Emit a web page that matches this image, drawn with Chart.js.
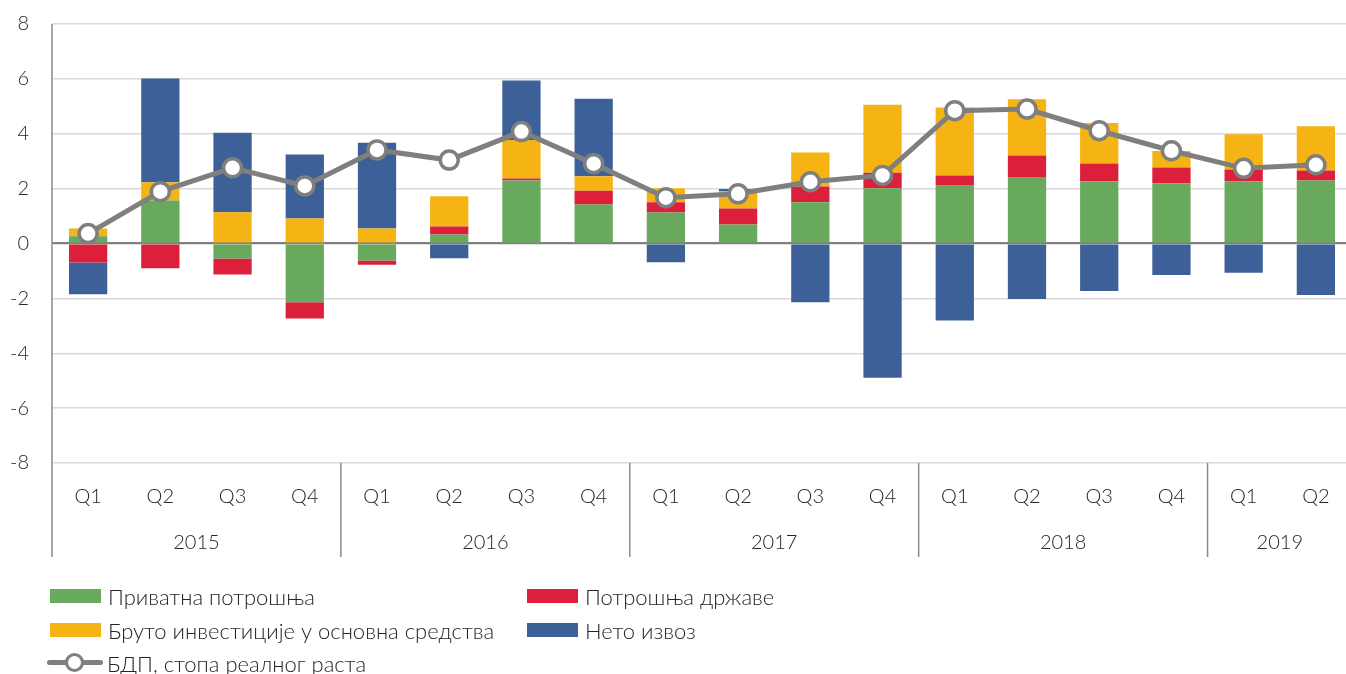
<!DOCTYPE html>
<html><head><meta charset="utf-8">
<script src="https://cdn.jsdelivr.net/npm/chart.js@4/dist/chart.umd.min.js"></script>
<style>
html,body{margin:0;padding:0;background:#fff;overflow:hidden;}
#wrap{position:relative;width:1360px;height:674px;}
#legend{position:absolute;left:0;top:0;width:1346px;height:674px;pointer-events:none;font-family:Lato,'Open Sans',sans-serif;font-weight:300;font-size:22px;color:#262626;}
.item{position:absolute;height:30px;display:flex;align-items:center;white-space:nowrap;}
.box{display:inline-block;width:51px;height:14px;margin-right:7px;}
.lm{position:relative;display:inline-block;width:56px;height:20px;margin-right:4px;}
.lm .ln{position:absolute;left:0;right:0;top:7px;height:5px;background:#7f7f7f;border-radius:3px;}
.lm .pt{position:absolute;left:18px;top:0;width:13px;height:13px;border:3.5px solid #7f7f7f;border-radius:50%;background:#fff;}
</style></head>
<body><div id="wrap"><canvas id="c" width="1360" height="674"></canvas><div id="legend"></div></div>
<script>
const quarters = ['Q1','Q2','Q3','Q4','Q1','Q2','Q3','Q4','Q1','Q2','Q3','Q4','Q1','Q2','Q3','Q4','Q1','Q2'];
const years = ['2015','2016','2017','2018','2019'];
const yearQuarterCounts = [4,4,4,4,2];
const seriesNames = ['Приватна потрошња','Потрошња државе','Бруто инвестиције у основна средства','Нето извоз','БДП, стопа реалног раста'];
const privateConsumption = [0.26,1.57,-0.55,-2.14,-0.62,0.33,2.30,1.42,1.13,0.69,1.50,2.01,2.13,2.42,2.27,2.20,2.27,2.30];
const governmentConsumption = [-0.69,-0.90,-0.58,-0.59,-0.15,0.29,0.07,0.50,0.37,0.59,0.58,0.57,0.35,0.79,0.65,0.57,0.43,0.36];
const grossInvestment = [0.29,0.66,1.14,0.91,0.55,1.10,1.40,0.53,0.51,0.63,1.24,2.48,2.48,2.05,1.47,0.60,1.28,1.61];
const netExports = [-1.16,3.78,2.90,2.33,3.12,-0.54,2.17,2.83,-0.68,0.08,-2.14,-4.89,-2.81,-2.02,-1.73,-1.15,-1.07,-1.88];
const gdpGrowth = [0.36,1.89,2.76,2.10,3.41,3.04,4.08,2.91,1.67,1.81,2.25,2.48,4.84,4.90,4.11,3.38,2.74,2.87];

const colors = ['#68a95e','#dc203c','#f5b414','#3d6098','#7f7f7f'];
const FONT = 'Lato, "Open Sans", sans-serif';
const TXT = '#262626';

// year boundaries & centers (in category index units)
const yearBounds = [-0.5];
const yearCenters = [];
yearQuarterCounts.forEach(n => { const s = yearBounds[yearBounds.length-1]; yearCenters.push(s + n/2); yearBounds.push(s + n); });

const separators = {
  id:'separators',
  afterDraw(chart){
    const ctx = chart.ctx, x = chart.scales.x, x2 = chart.scales.x2, ca = chart.chartArea;
    const catW = x.getPixelForValue(1) - x.getPixelForValue(0);
    ctx.save();
    ctx.strokeStyle = '#8c8c8c'; ctx.lineWidth = 1.5;
    ctx.beginPath();
    ctx.moveTo(ca.left, ca.top); ctx.lineTo(ca.left, x2.bottom);
    yearBounds.slice(1).forEach(b => {
      const px = x.getPixelForValue(b - 0.5) + catW/2;
      ctx.moveTo(px, ca.bottom); ctx.lineTo(px, x2.bottom);
    });
    ctx.stroke();
    ctx.restore();
  }
};

const barDs = (label, data, color) => ({type:'bar', label, data, backgroundColor:color, borderWidth:0, stack:'c', order:1, barPercentage:0.53, categoryPercentage:1});

const chart = new Chart(document.getElementById('c'), {
  data:{
    labels: quarters,
    datasets:[
      {type:'line', label:seriesNames[4], data:gdpGrowth, borderColor:colors[4], borderWidth:5, pointRadius:9, pointHoverRadius:9, pointBorderWidth:3.5, pointBackgroundColor:'#fff', pointBorderColor:colors[4], order:0, stack:'g', tension:0},
      barDs(seriesNames[0], privateConsumption, colors[0]),
      barDs(seriesNames[1], governmentConsumption, colors[1]),
      barDs(seriesNames[2], grossInvestment, colors[2]),
      barDs(seriesNames[3], netExports, colors[3])
    ]
  },
  options:{
    responsive:false, animation:false, devicePixelRatio:1,
    layout:{autoPadding:false, padding:{left:0,right:8,top:24,bottom:117}},
    plugins:{legend:{display:false}, tooltip:{enabled:false}},
    scales:{
      x:{type:'category', stacked:true, grid:{display:false}, border:{display:false},
         ticks:{font:{family:FONT,size:20,weight:300}, color:TXT, padding:14, maxRotation:0, autoSkip:false},
         afterFit(s){ s.height = 48; }},
      x2:{type:'linear', position:'bottom', min:-0.5, max:17.5, grid:{display:false}, border:{display:false},
         afterBuildTicks(s){ s.ticks = yearCenters.map(v => ({value:v})); },
         ticks:{font:{family:FONT,size:20,weight:300}, color:TXT, padding:12, maxRotation:0, autoSkip:false, callback:(v,i)=>years[i]},
         afterFit(s){ s.height = 46; }},
      y:{stacked:true, min:-8, max:8,
         ticks:{stepSize:2, font:{family:FONT,size:20,weight:300}, color:TXT, padding:23},
         grid:{drawTicks:false, color:c => c.tick.value===0 ? '#808080' : '#d9d9d9', lineWidth:c => c.tick.value===0 ? 2.2 : 1.5},
         border:{display:false},
         afterFit(s){ s.width = 52; s.paddingTop = 0; s.paddingBottom = 0; }}
    }
  },
  plugins:[separators]
});

// HTML legend built from chart datasets
const lg = document.getElementById('legend');
const byLabel = {};
chart.data.datasets.forEach(d => byLabel[d.label] = d);
const legendSlots = [
  {name:seriesNames[0], left:50, top:581},
  {name:seriesNames[1], left:527, top:581},
  {name:seriesNames[2], left:50, top:615},
  {name:seriesNames[3], left:527, top:615},
  {name:seriesNames[4], left:47, top:648, line:true}
];
legendSlots.forEach(s => {
  const d = byLabel[s.name];
  const el = document.createElement('div');
  el.className = 'item';
  el.style.left = s.left + 'px'; el.style.top = s.top + 'px';
  if (s.line) {
    el.innerHTML = '<span class="lm"><span class="ln"></span><span class="pt"></span></span>';
  } else {
    el.innerHTML = '<span class="box" style="background:' + d.backgroundColor + '"></span>';
  }
  const t = document.createElement('span'); t.textContent = d.label; el.appendChild(t);
  lg.appendChild(el);
});
</script>
</body></html>
